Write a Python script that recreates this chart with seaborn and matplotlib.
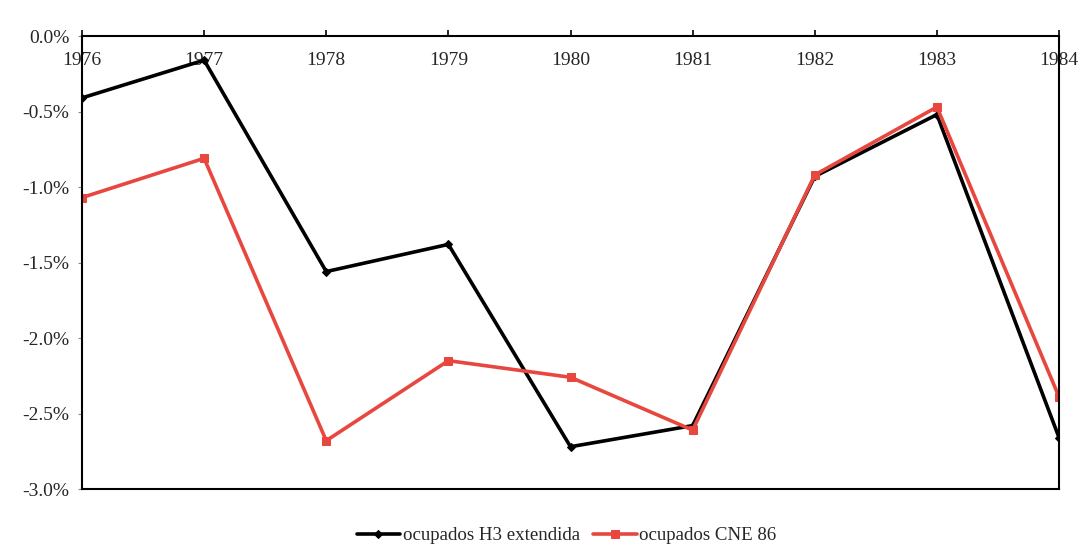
"""
Ocupados: comparación H3 extendida vs CNE 86
"""

import pandas as pd
import matplotlib.pyplot as plt
import seaborn as sns
from matplotlib.ticker import FuncFormatter

sns.set_style("white")
plt.rcParams["font.family"] = ["Liberation Serif", "DejaVu Serif"]

years = [1976, 1977, 1978, 1979, 1980, 1981, 1982, 1983, 1984]
h3_extendida = [-0.41, -0.16, -1.56, -1.38, -2.72, -2.58, -0.93, -0.52, -2.66]
cne_86 = [-1.07, -0.81, -2.68, -2.15, -2.26, -2.61, -0.92, -0.47, -2.39]

df = pd.DataFrame({"year": years, "h3": h3_extendida, "cne": cne_86})

fig = plt.figure(figsize=(10.9, 5.54), dpi=100)
ax = fig.add_axes([0.0752, 0.1173, 0.8964, 0.8177])

sns.lineplot(data=df, x="year", y="h3", ax=ax, color="black", lw=2.6,
             marker="D", markersize=4, markeredgecolor="black",
             label="ocupados H3 extendida")
sns.lineplot(data=df, x="year", y="cne", ax=ax, color="#E8473F", lw=2.6,
             marker="s", markersize=5.5, markeredgecolor="#E8473F",
             label="ocupados CNE 86")

ax.set_xlim(1976, 1984)
ax.set_ylim(-3.0, 0.0)
ax.set_xticks(years)
ax.set_yticks([0.0, -0.5, -1.0, -1.5, -2.0, -2.5, -3.0])
ax.yaxis.set_major_formatter(FuncFormatter(lambda v, p: f"{v:.1f}%"))
ax.set_xlabel("")
ax.set_ylabel("")

ax.xaxis.tick_top()
ax.tick_params(axis="x", direction="out", length=4, width=1.2, color="black",
               pad=-28, labelsize=14)
ax.tick_params(axis="y", left=True, direction="out", length=3, width=0.8,
               color="#888888", labelsize=14, pad=6)
for s in ax.spines.values():
    s.set_color("black")
    s.set_linewidth(1.5)

ax.legend(loc="center", bbox_to_anchor=(0.496, -0.103), ncol=2,
          frameon=False, fontsize=13.6, handlelength=2.3, columnspacing=0.7,
          handletextpad=0.15)

fig.savefig("out.png", dpi=100, facecolor="white")
